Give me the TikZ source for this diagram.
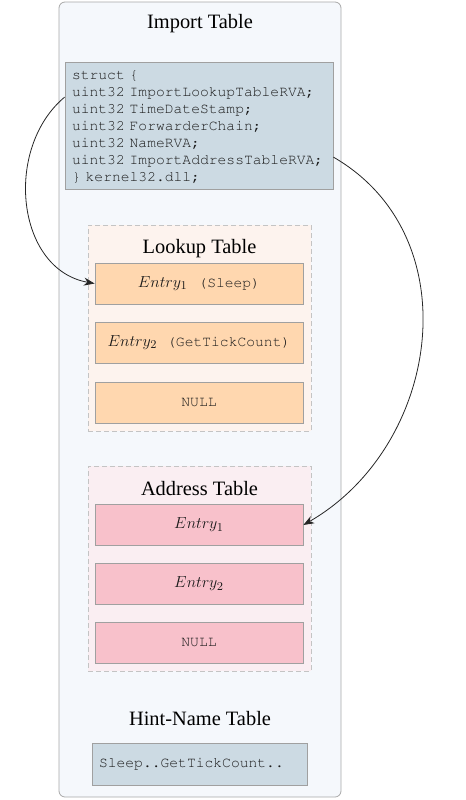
\documentclass[tikz,border=0pt]{standalone}
\usepackage{fontspec}
\setmainfont{Liberation Serif}
\setmonofont{Liberation Mono}
\usetikzlibrary{arrows.meta,calc}
\newdimen\pxu \pxu=0.75pt
\newcommand\cour{\fontencoding{T1}\fontfamily{pcr}\selectfont}
\newcommand\monoent{\fontsize{11}{13}\selectfont\cour}
\definecolor{outerfill}{HTML}{F5F8FC}
\definecolor{outerdraw}{HTML}{A8A8A8}
\definecolor{structfill}{HTML}{CCDAE3}
\definecolor{lookgrp}{HTML}{FDF3EE}
\definecolor{lookent}{HTML}{FFD7AF}
\definecolor{addrgrp}{HTML}{FAEEF2}
\definecolor{addrent}{HTML}{F8C1CB}
\definecolor{boxdraw}{HTML}{A0A0A0}
\definecolor{dashdraw}{HTML}{C4C4C4}
\definecolor{codetext}{HTML}{1A1A1A}
\tikzset{
  outerbox/.style={draw=outerdraw, fill=outerfill, rounded corners=6\pxu, line width=0.8\pxu, minimum width=282\pxu, minimum height=795\pxu, inner sep=0pt},
  codebox/.style={draw=boxdraw, fill=structfill, line width=0.8\pxu, inner xsep=7\pxu, inner ysep=0pt, align=left, text=codetext, font=\fontsize{11}{12.75}\selectfont\cour},
  grpbox/.style={draw=dashdraw, dashed, dash pattern=on 5\pxu off 3\pxu, line width=0.8\pxu, minimum width=223\pxu, minimum height=206\pxu, inner sep=0pt},
  entbox/.style={draw=boxdraw, line width=0.8\pxu, minimum width=208\pxu, minimum height=41\pxu, inner sep=0pt, font=\fontsize{12.2}{14}\selectfont, text=codetext},
  ttitle/.style={font=\fontsize{15.3}{18}\selectfont, inner sep=0pt, anchor=base},
  link/.style={draw=black!85, line width=0.6pt, -{Stealth[length=8pt, width=6pt]}}
}
\begin{document}
\begin{tikzpicture}[x=0.75pt, y=-0.75pt]
\useasboundingbox (0,0) rectangle (465,800);
\node[outerbox] (outer) at (200,399.5) {};
\node[ttitle] (ititle) at (200,28) {Import Table};
\node[codebox, text width=254\pxu, minimum height=127\pxu] (struct) at (199,126) {\rule{0pt}{8pt}struct \{\\uint32 ImportLookupTableRVA;\\uint32 TimeDateStamp;\\uint32 ForwarderChain;\\uint32 NameRVA;\\uint32 ImportAddressTableRVA;\\\} kernel32.dll;};
% lookup table
\node[grpbox, fill=lookgrp] (lgrp) at (199.5,328) {};
\node[ttitle] (ltitle) at (199.5,253) {Lookup Table};
\node[entbox, fill=lookent] (l1) at (199,283.5) {$Entry_1$\hspace{11\pxu}{\monoent(Sleep)}};
\node[entbox, fill=lookent] (l2) at (199,342.5) {$Entry_2$\hspace{10\pxu}{\monoent(GetTickCount)}};
\node[entbox, fill=lookent] (l3) at (199,402.5) {{\monoent NULL}};
% address table
\node[grpbox, fill=addrgrp, minimum height=205\pxu] (agrp) at (199.5,568.5) {};
\node[ttitle] (atitle) at (199.5,495) {Address Table};
\node[entbox, fill=addrent] (a1) at (199,525) {$Entry_1$};
\node[entbox, fill=addrent] (a2) at (199,584) {$Entry_2$};
\node[entbox, fill=addrent] (a3) at (199,643) {{\monoent NULL}};
% hint-name table
\node[ttitle] (htitle) at (200,725) {Hint-Name Table};
\node[codebox, fill=structfill, text width=201\pxu, minimum height=42\pxu] (hint) at (199.5,764) {Sleep..GetTickCount..};
% connectors
\coordinate (lstart) at ($(struct.north west)+(0,35)$);
\coordinate (rstart) at ($(struct.north east)+(0,95)$);
\draw[link] (lstart) to[out=220, in=170, looseness=1.08] (l1.west);
\draw[link] (rstart) to[out=-30, in=30, looseness=1.1] (a1.east);
\end{tikzpicture}
\end{document}
